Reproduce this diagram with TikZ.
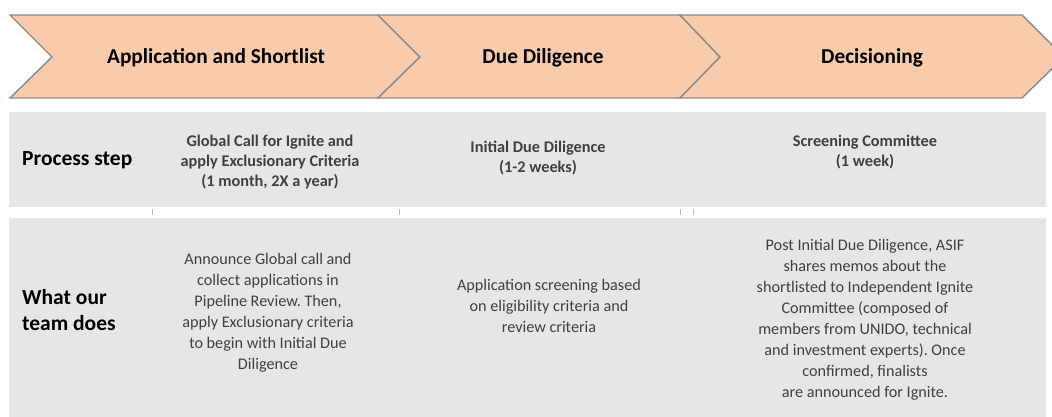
\documentclass[tikz,border=0pt]{standalone}
\usepackage{fontspec}
\setmainfont{Carlito}
\frenchspacing
\definecolor{peach}{HTML}{F8CBAD}
\definecolor{chevline}{HTML}{8A8A8A}
\definecolor{rowgray}{HTML}{E6E6E6}
\definecolor{txtgray}{HTML}{404040}
\begin{document}
\begin{tikzpicture}[x=1pt,y=-1pt,
  chev/.style={fill=peach,draw=chevline,line width=1.4pt,line join=miter},
  row/.style={fill=rowgray,draw=none},
  head/.style={font=\fontsize{21.3}{24}\selectfont\bfseries,text=black,anchor=center},
  rowlabel/.style={font=\fontsize{21.5}{26}\selectfont\bfseries,text=black,anchor=west,align=left,inner xsep=0pt},
  steptxt/.style={font=\fontsize{16.3}{20}\selectfont\bfseries,text=txtgray,align=center,anchor=center},
  celltxt/.style={font=\fontsize{16.2}{21}\selectfont,text=txtgray,align=center,anchor=center},
  tick/.style={draw=rowgray!80!black,line width=0.8pt}]
\useasboundingbox (0,0) rectangle (1052,417);
\clip (0,0) rectangle (1052,417);
% chevrons
\draw[chev] (10,15) -- (378,15) -- (420,57) -- (378,98) -- (10,98) -- (52,57) -- cycle;
\draw[chev] (378,15) -- (680,15) -- (720,57) -- (680,98) -- (378,98) -- (420,57) -- cycle;
\draw[chev] (680,15) -- (1022,15) -- (1064,57) -- (1022,98) -- (680,98) -- (720,57) -- cycle;
\node[head] (h1) at (216,58) {Application and Shortlist};
\node[head] (h2) at (543,58) {Due Diligence};
\node[head] (h3) at (872,58) {Decisioning};
% rows
\fill[row] (9,112) rectangle (1046,207);
\fill[row] (9,218) rectangle (1046,417);
\draw[tick] (152,209) -- (152,215);
\draw[tick] (399,209) -- (399,215);
\draw[tick] (680,209) -- (680,215);
\draw[tick] (693,209) -- (693,215);
\node[rowlabel] (l1) at (22,160) {Process step};
\node[rowlabel] (l2) at (22,310) {What our\\team does};
\node[steptxt] (s1) at (270,162) {Global Call for Ignite and\\apply Exclusionary Criteria\\(1 month, 2X a year)};
\node[steptxt] (s2) at (538,158) {Initial Due Diligence\\(1-2 weeks)};
\node[steptxt] (s3) at (865,152) {Screening Committee\\(1 week)};
\node[celltxt] (c1) at (268,313) {Announce Global call and\\collect applications in\\Pipeline Review. Then,\\apply Exclusionary criteria\\to begin with Initial Due\\Diligence};
\node[celltxt] (c2) at (549,306) {Application screening based\\on eligibility criteria and\\review criteria};
\node[celltxt] (c3) at (865,320) {Post Initial Due Diligence, ASIF\\shares memos about the\\shortlisted to Independent Ignite\\Committee (composed of\\members from UNIDO, technical\\and investment experts). Once\\confirmed, finalists\\are announced for Ignite.};
\end{tikzpicture}
\end{document}
